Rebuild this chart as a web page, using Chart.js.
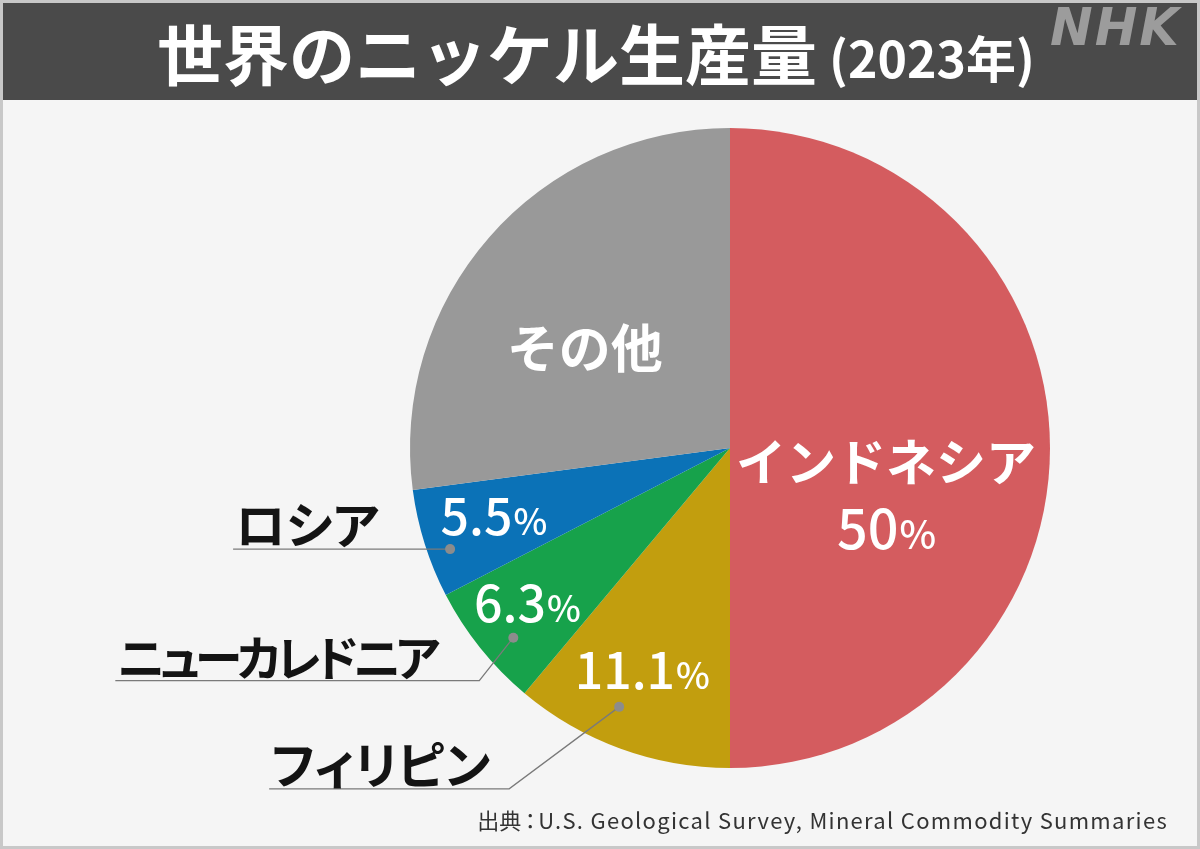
<!DOCTYPE html>
<html lang="ja">
<head>
<meta charset="utf-8">
<title>世界のニッケル生産量（2023年）</title>
<script src="https://cdn.jsdelivr.net/npm/chart.js@4.4.0/dist/chart.umd.min.js"></script>
<style>
    html, body { margin: 0; padding: 0; background: #f5f5f5; }
    #wrap { position: relative; width: 1200px; height: 849px; overflow: hidden; background: #f5f5f5; }
    #frame { position: absolute; left: 0; top: 0; width: 1194px; height: 843px; border: 3px solid #c8c8c8; pointer-events: none; }
    .callout { position: absolute; white-space: nowrap; font-family: "Noto Sans CJK JP", sans-serif; font-weight: 700;
               font-size: 50px; line-height: 50px; color: #141414; font-feature-settings: "palt"; }
</style>
</head>
<body>
<div id="wrap">
    <canvas id="nickelChart" width="1200" height="849"></canvas>
    <div id="frame"></div>
</div>
<script>
/* data (share of world nickel output, %) */
var countries = ['インドネシア', 'フィリピン', 'ニューカレドニア', 'ロシア', 'その他'];
var shares = [50, 11.1, 6.3, 5.5, 27.1];
var sliceColors = ['#d45c5f', '#c29e0e', '#17a24b', '#0b72b7', '#999999'];

var titleMain = '世界のニッケル生産量';
var titleYear = '(2023年)';
var sourceHead = '出典';
var sourceNote = 'U.S. Geological Survey, Mineral Commodity Summaries';

/* where text sits inside each slice: angle offset from slice middle (deg), radius fraction */
var insidePlace = [
    { a: 17, r: 0.51 },
    { a: 1.6, r: 0.75 },
    { a: 1.2, r: 0.80 },
    { a: 1.3, r: 0.77 },
    { a: -6.8, r: 0.55 }
];
/* callouts for the small slices: dot position, elbow offset, line length, text size/spacing */
var calloutPlace = {
    1: { a: 3.2, r: 0.88, ex: -110, ey: 82, len: 240, size: 50, spacing: 0 },
    2: { a: -2.5, r: 0.90, ex: -34, ey: 43, len: 364, size: 48, spacing: -5 },
    3: { a: -2.4, r: 0.93, ex: 0, ey: 0, len: 217, size: 50, spacing: 0 }
};

var FONT = '"Noto Sans CJK JP", "Noto Sans", sans-serif';

function polar(arc, offsetDeg, frac) {
    var mid = (arc.startAngle + arc.endAngle) / 2 + offsetDeg * Math.PI / 180;
    var r = arc.outerRadius * frac;
    return { x: arc.x + Math.cos(mid) * r, y: arc.y + Math.sin(mid) * r };
}

/* number big, percent sign small, centred on (x, y) */
function drawPercent(ctx, value, x, y, size) {
    var num = value.toString();
    var pctSize = Math.round(size * 0.72);
    ctx.font = '500 ' + size + 'px ' + FONT;
    var wNum = ctx.measureText(num).width;
    ctx.font = '500 ' + pctSize + 'px ' + FONT;
    var wPct = ctx.measureText('%').width;
    var left = x - (wNum + wPct) / 2;
    var base = y + size * 0.36;
    ctx.textAlign = 'left';
    ctx.textBaseline = 'alphabetic';
    ctx.font = '500 ' + size + 'px ' + FONT;
    ctx.fillText(num, left, base);
    ctx.font = '500 ' + pctSize + 'px ' + FONT;
    ctx.fillText('%', left + wNum + 1, base);
}

var framePlugin = {
    id: 'frame',
    beforeDraw: function (chart) {
        var ctx = chart.ctx;
        var w, start;
        ctx.save();
        ctx.fillStyle = '#f5f5f5';
        ctx.fillRect(0, 0, chart.width, chart.height);
        /* title bar */
        ctx.fillStyle = '#4a4a4a';
        ctx.fillRect(0, 0, chart.width, 100);
        ctx.fillStyle = '#ffffff';
        ctx.textBaseline = 'alphabetic';
        ctx.textAlign = 'left';
        ctx.font = '700 66px ' + FONT;
        ctx.fillText(titleMain, 157, 80);
        w = ctx.measureText(titleMain).width;
        ctx.font = '700 50px ' + FONT;
        ctx.fillText(titleYear, 157 + w + 12, 78);
        /* logo */
        ctx.fillStyle = '#9c9c9c';
        ctx.font = 'italic 700 51px "DejaVu Sans", sans-serif';
        ctx.letterSpacing = '2px';
        ctx.fillText('NHK', 1050, 45);
        /* source, colon kept tight like the original */
        ctx.fillStyle = '#333333';
        ctx.font = '400 22px ' + FONT;
        ctx.letterSpacing = '1.3px';
        start = 1168 - ctx.measureText(sourceNote).width;
        ctx.textAlign = 'left';
        ctx.fillText(sourceNote, start, 829);
        ctx.letterSpacing = '0px';
        ctx.textAlign = 'right';
        ctx.fillText(sourceHead, start - 17, 829);
        ctx.textAlign = 'center';
        ctx.fillText('：', start - 8, 829);
        ctx.restore();
    }
};

var labelPlugin = {
    id: 'sliceLabels',
    afterDatasetsDraw: function (chart) {
        var ctx = chart.ctx;
        var arcs = chart.getDatasetMeta(0).data;
        var wrap = document.getElementById('wrap');
        var i, p, c, dot, elbow, end, div;
        ctx.save();
        ctx.fillStyle = '#ffffff';
        for (i = 0; i < arcs.length; i++) {
            p = polar(arcs[i], insidePlace[i].a, insidePlace[i].r);
            if (i === 0) {
                ctx.font = '700 50px ' + FONT;
                ctx.textAlign = 'center';
                ctx.textBaseline = 'middle';
                ctx.fillText(countries[i], p.x, p.y - 34);
                drawPercent(ctx, shares[i], p.x, p.y + 34, 54);
            } else if (i === 4) {
                ctx.font = '700 52px ' + FONT;
                ctx.textAlign = 'center';
                ctx.textBaseline = 'middle';
                ctx.fillText(countries[i], p.x, p.y);
            } else {
                drawPercent(ctx, shares[i], p.x, p.y, 50);
            }
        }
        /* leader lines and names outside the pie */
        for (i in calloutPlace) {
            c = calloutPlace[i];
            dot = polar(arcs[i], c.a, c.r);
            elbow = { x: dot.x + c.ex, y: dot.y + c.ey };
            end = { x: elbow.x - c.len, y: elbow.y };
            ctx.strokeStyle = '#7a7a7a';
            ctx.lineWidth = 1.3;
            ctx.beginPath();
            ctx.moveTo(dot.x, dot.y);
            ctx.lineTo(elbow.x, elbow.y);
            ctx.lineTo(end.x, end.y);
            ctx.stroke();
            ctx.fillStyle = '#8c8c8c';
            ctx.beginPath();
            ctx.arc(dot.x, dot.y, 5, 0, Math.PI * 2);
            ctx.fill();

            div = document.getElementById('callout' + i);
            if (!div) {
                div = document.createElement('div');
                div.id = 'callout' + i;
                div.className = 'callout';
                div.textContent = countries[i];
                wrap.appendChild(div);
            }
            div.style.fontSize = c.size + 'px';
            div.style.lineHeight = c.size + 'px';
            div.style.letterSpacing = c.spacing + 'px';
            div.style.left = (end.x + 2) + 'px';
            div.style.top = (end.y - c.size - 2) + 'px';
        }
        ctx.restore();
    }
};

var nickelChart = new Chart(document.getElementById('nickelChart'), {
    type: 'pie',
    data: {
        labels: countries,
        datasets: [{
            data: shares,
            backgroundColor: sliceColors,
            borderWidth: 0
        }]
    },
    options: {
        responsive: false,
        animation: false,
        events: [],
        layout: {
            padding: { left: 410, top: 128, right: 150, bottom: 81 }
        },
        plugins: {
            legend: { display: false },
            tooltip: { enabled: false }
        }
    },
    plugins: [framePlugin, labelPlugin]
});
</script>
</body>
</html>
